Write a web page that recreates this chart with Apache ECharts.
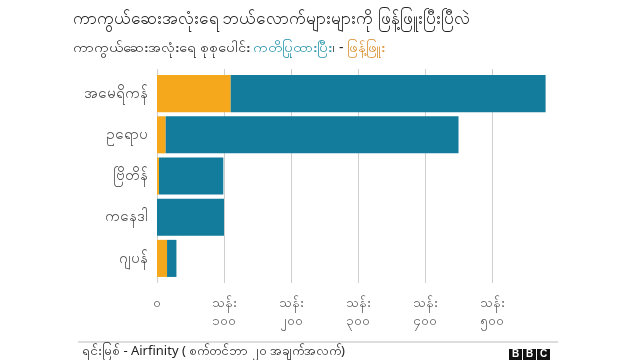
<!DOCTYPE html>
<html><head><meta charset="utf-8">
<script src="https://cdn.jsdelivr.net/npm/echarts@6/dist/echarts.min.js"></script>
<style>html,body{margin:0;padding:0;background:#fff}#c{width:640px;height:360px}</style>
</head><body><div id="c"></div>
<script>
const categories = ['အမေရိကန်','ဥရောပ','ဗြိတိန်','ကနေဒါ','ဂျပန်'];
const distributed = [110, 13, 3, 0, 15];
const orderedRemaining = [470, 437, 96, 100, 14];
const tickLabels = {0:'၀',100:'သန်း\n၁၀၀',200:'သန်း\n၂၀၀',300:'သန်း\n၃၀၀',400:'သန်း\n၄၀၀',500:'သန်း\n၅၀၀'};
const titleText = 'ကာကွယ်ဆေးအလုံးရေ ဘယ်လောက်များများကို ဖြန့်ဖြူးပြီးပြီလဲ';
const sourceText = 'ရင်းမြစ် - Airfinity ( စက်တင်ဘာ ၂၀ အချက်အလက်)';

const ORANGE = '#f5a81c', TEAL = '#137b9b';
const font = "'Noto Sans', sans-serif";
const chart = echarts.init(document.getElementById('c'));
chart.setOption({
  animation: false,
  textStyle: {fontFamily: font},
  title: [{
    text: titleText, left: 68, top: 6,
    textStyle: {fontSize: 17, fontWeight: 'normal', color: '#222', fontFamily: font}
  },{
    text: '{b|ကာကွယ်ဆေးအလုံးရေ စုစုပေါင်း }{t|ကတိပြုထားပြီး}{b|၊ - }{o|ဖြန့်ဖြူး}',
    left: 68, top: 36,
    textStyle: {fontWeight: 'normal', rich: {
      b: {fontSize: 14, color: '#222', fontWeight: 'normal', fontFamily: font},
      t: {fontSize: 14, color: '#1b8ea8', fontWeight: 'normal', fontFamily: font},
      o: {fontSize: 14, color: '#d98a25', fontWeight: 'normal', fontFamily: font}
    }}
  }],
  grid: [
    {left: 157, top: 73, width: 402, height: 206, containLabel: false},
    {left: 157, top: 69, width: 335, height: 214, containLabel: false}
  ],
  xAxis: [
    {gridIndex: 0, type: 'value', min: 0, max: 600, interval: 100,
     axisLine: {show: false}, axisTick: {show: false}, axisLabel: {show: false}, splitLine: {show: false}},
    {gridIndex: 1, type: 'value', min: 0, max: 500, interval: 100,
     axisLine: {show: false}, axisTick: {show: false},
     splitLine: {show: true, lineStyle: {color: '#cfcfcf', width: 1}},
     axisLabel: {margin: 11, color: '#555', fontSize: 13, lineHeight: 18, verticalAlign: 'top',
       formatter: v => tickLabels[v] !== undefined ? tickLabels[v] : ''}}
  ],
  yAxis: [
    {gridIndex: 0, type: 'category', data: categories, inverse: true,
     axisLine: {show: false}, axisTick: {show: false},
     axisLabel: {color: '#444', fontSize: 15, margin: 9}},
    {gridIndex: 1, type: 'category', data: categories, show: false}
  ],
  series: [
    {name: 'ဖြန့်ဖြူး', type: 'bar', stack: 'a', xAxisIndex: 0, yAxisIndex: 0,
     data: distributed, itemStyle: {color: ORANGE}, barCategoryGap: '10%'},
    {name: 'ကတိပြုထားပြီး', type: 'bar', stack: 'a', xAxisIndex: 0, yAxisIndex: 0,
     data: orderedRemaining, itemStyle: {color: TEAL}, barCategoryGap: '10%'}
  ],
  graphic: [
    {type: 'line', shape: {x1: 78, y1: 342, x2: 558, y2: 342}, style: {stroke: '#bbb', lineWidth: 1}},
    {type: 'text', left: 82, top: 345, style: {text: sourceText, fontSize: 13, fill: '#222', fontFamily: font}},
    {type: 'rect', shape: {x: 509, y: 349, width: 13, height: 11}, style: {fill: '#111'}},
    {type: 'rect', shape: {x: 523, y: 349, width: 13, height: 11}, style: {fill: '#111'}},
    {type: 'rect', shape: {x: 537, y: 349, width: 13, height: 11}, style: {fill: '#111'}},
    {type: 'text', x: 515.5, y: 354.5, style: {text: 'B', fill: '#fff', fontSize: 10, fontWeight: 'bold', align: 'center', verticalAlign: 'middle', fontFamily: 'Arial'}},
    {type: 'text', x: 529.5, y: 354.5, style: {text: 'B', fill: '#fff', fontSize: 10, fontWeight: 'bold', align: 'center', verticalAlign: 'middle', fontFamily: 'Arial'}},
    {type: 'text', x: 543.5, y: 354.5, style: {text: 'C', fill: '#fff', fontSize: 10, fontWeight: 'bold', align: 'center', verticalAlign: 'middle', fontFamily: 'Arial'}}
  ]
});
</script></body></html>
